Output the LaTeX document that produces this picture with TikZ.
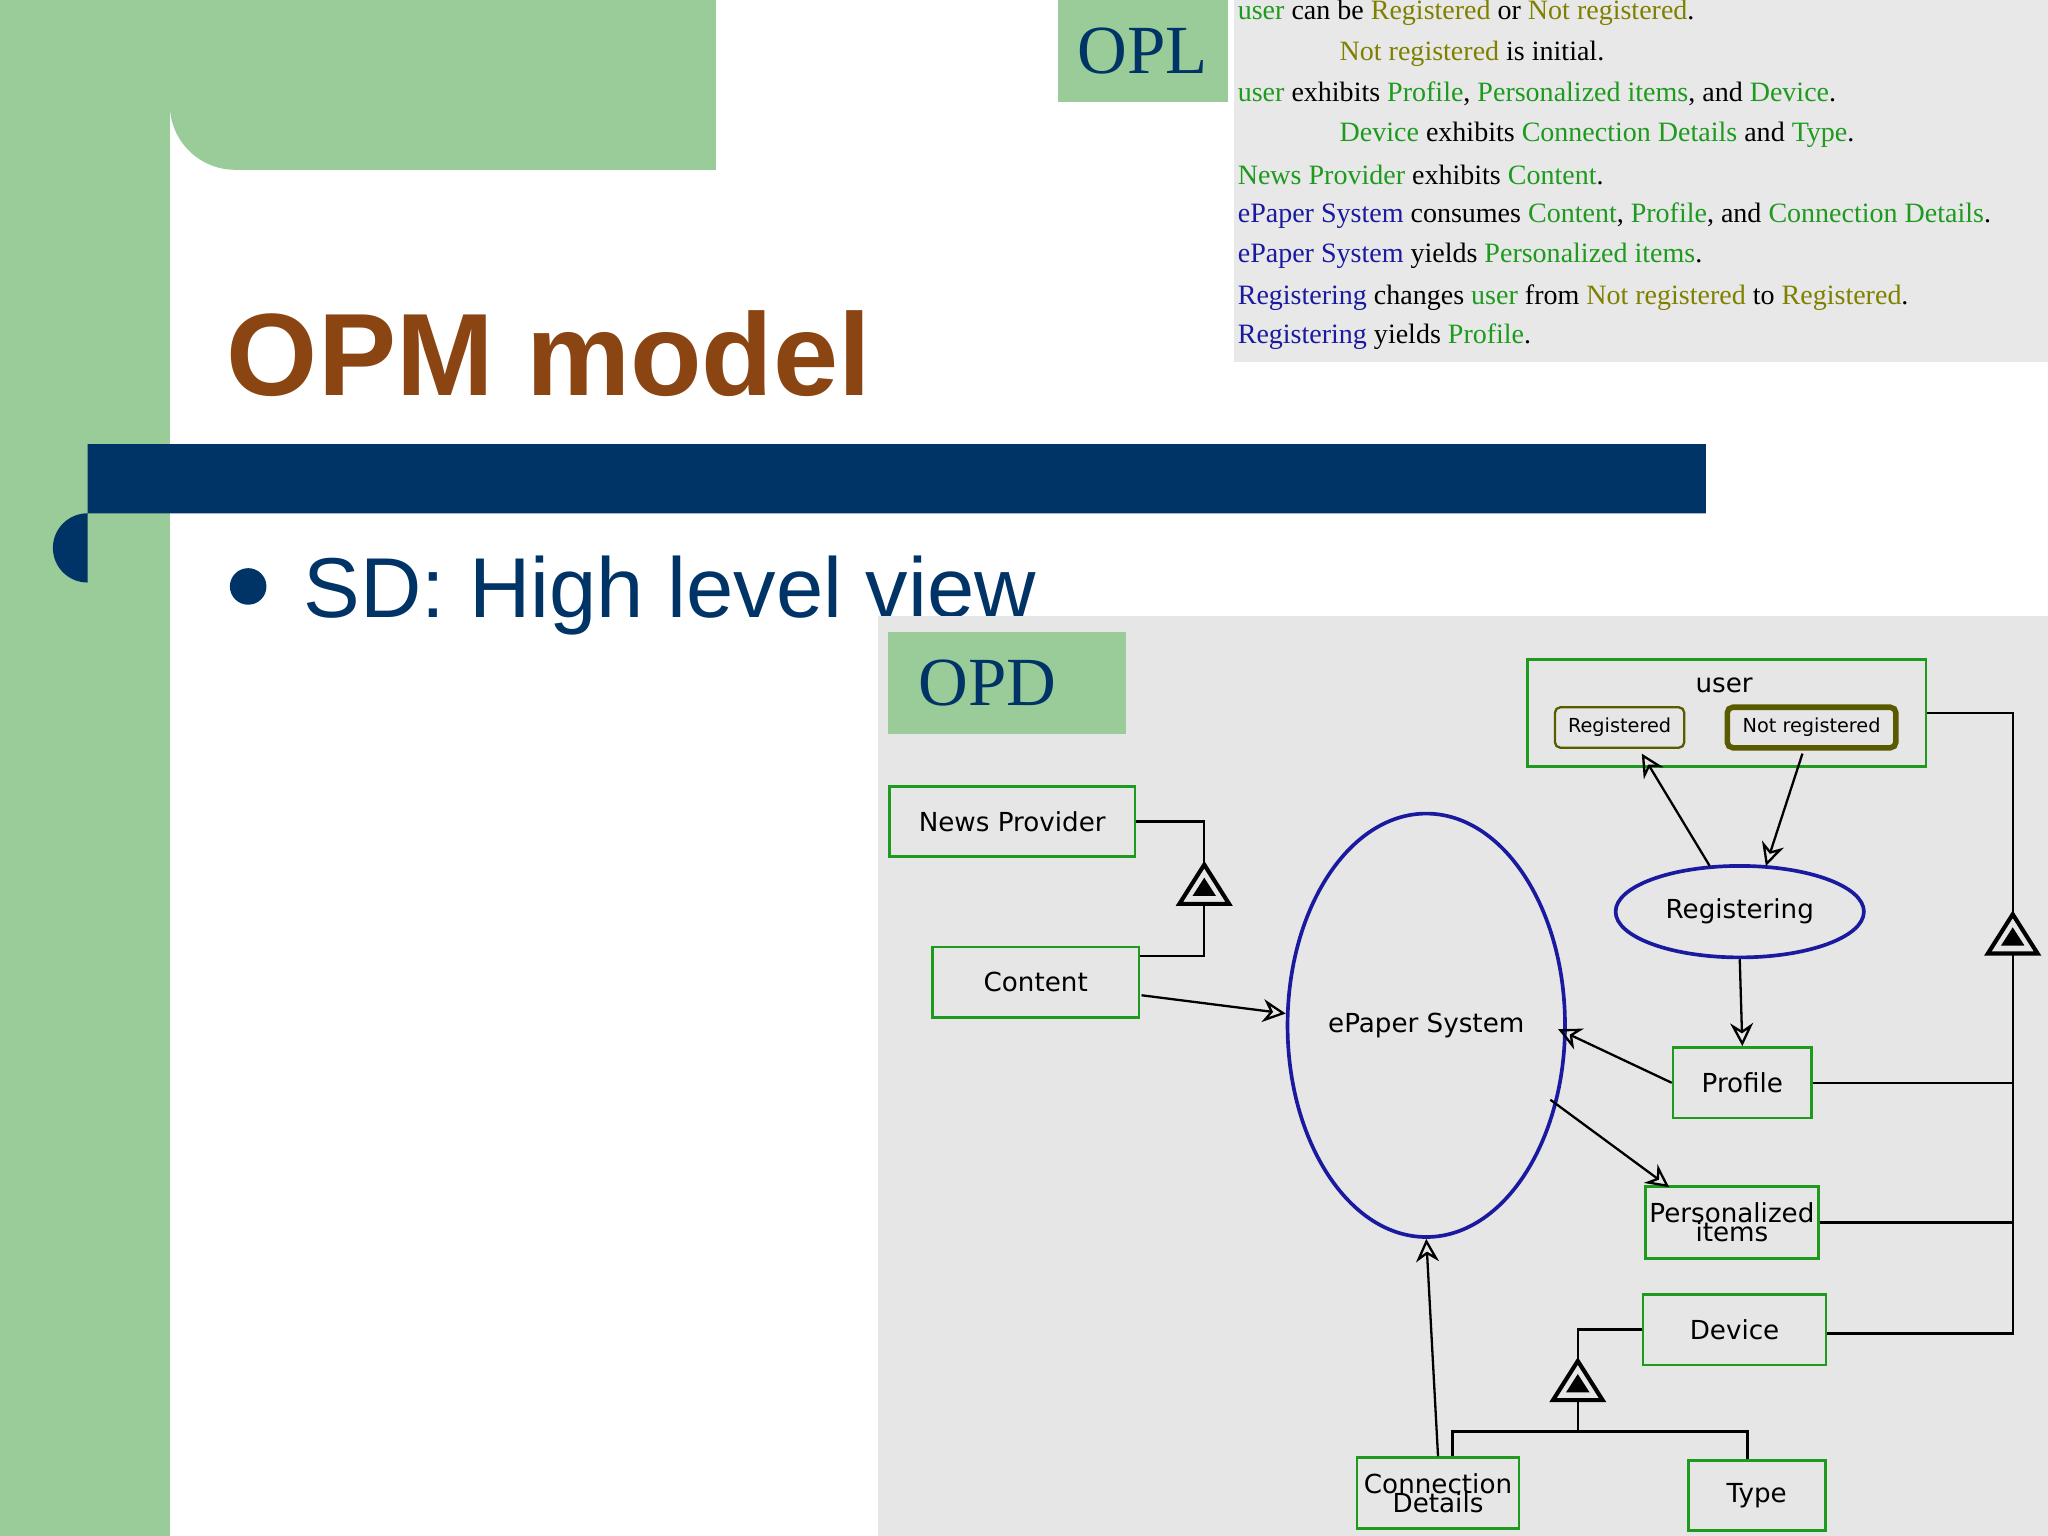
\documentclass[tikz,border=0pt]{standalone}
\usepackage{fontspec}
\setmainfont{Liberation Serif}
\setsansfont{Liberation Sans}
\newfontfamily\dvsans{DejaVu Sans}
\usetikzlibrary{arrows.meta,shapes.geometric}
\definecolor{sgreen}{HTML}{99CC99}
\definecolor{navy}{HTML}{003366}
\definecolor{brownt}{HTML}{8B4513}
\definecolor{oplgray}{HTML}{E8E8E8}
\definecolor{opdgray}{HTML}{E6E6E6}
\definecolor{objg}{HTML}{1E9A1E}
\definecolor{stol}{HTML}{808000}
\definecolor{prb}{HTML}{1A1AA0}
\newcommand{\ob}[1]{\textcolor{objg}{#1}}
\newcommand{\st}[1]{\textcolor{stol}{#1}}
\newcommand{\pr}[1]{\textcolor{prb}{#1}}
\begin{document}
\begin{tikzpicture}[x=0.01cm,y=-0.01cm,
 obj/.style={draw=objg,line width=0.6pt,fill=opdgray,inner sep=0pt,font=\dvsans\fontsize{5.7}{6.2}\selectfont,align=center},
 state/.style={draw=stol!70!black,rounded corners=1.2pt,line width=0.5pt,inner sep=0pt,font=\dvsans\fontsize{4.2}{5}\selectfont},
 proc/.style={draw=prb,ellipse,line width=0.8pt,inner sep=0pt,font=\dvsans\fontsize{5.7}{6.2}\selectfont},
 oplline/.style={anchor=west,inner sep=0pt,font=\fontsize{6.1}{7}\selectfont},
 arr/.style={-{Stealth[open,length=5pt,width=5pt]},line width=0.5pt},
 con/.style={line width=0.5pt}]
\useasboundingbox (0,0) rectangle (1568,1176);
\fill[white] (0,0) rectangle (1568,1176);
\fill[sgreen] (0,0) -- (548,0) -- (548,130) -- (180,130) arc[start angle=90,end angle=180,radius=50] -- (130,1176) -- (0,1176) -- cycle;
% OPL
\fill[oplgray] (945,0) rectangle (1568,277);
\node[fill=sgreen,minimum width=1.3cm,minimum height=0.78cm,inner sep=0pt,text=navy,font=\fontsize{15}{15}\selectfont] (opl) at (875,39) {OPL};
\node[oplline] (l1) at (947,10) {\ob{user} can be \st{Registered} or \st{Not registered}.};
\node[oplline] (l2) at (1025,41) {\st{Not registered} is initial.};
\node[oplline] (l3) at (947,72) {\ob{user} exhibits \ob{Profile}, \ob{Personalized items}, and \ob{Device}.};
\node[oplline] (l4) at (1025,103) {\ob{Device} exhibits \ob{Connection Details} and \ob{Type}.};
\node[oplline] (l5) at (947,134) {\ob{News Provider} exhibits \ob{Content}.};
\node[oplline] (l6) at (947,165) {\pr{ePaper System} consumes \ob{Content}, \ob{Profile}, and \ob{Connection Details}.};
\node[oplline] (l7) at (947,196) {\pr{ePaper System} yields \ob{Personalized items}.};
\node[oplline] (l8) at (947,228) {\pr{Registering} changes \ob{user} from \st{Not registered} to \st{Registered}.};
\node[oplline] (l9) at (947,258) {\pr{Registering} yields \ob{Profile}.};
% title
\node[anchor=base west,inner sep=0pt,text=brownt,font=\sffamily\bfseries\fontsize{25.5}{26}\selectfont] (title) at (173,303) {OPM model};
\fill[navy] (67,340) -- (1306,340) -- (1306,393) -- (67,393) arc[start angle=270,end angle=90,radius=26.5] -- cycle;
\fill[navy] (190,449) circle (14);
\node[anchor=base west,inner sep=0pt,text=navy,font=\sffamily\fontsize{18.5}{19}\selectfont] (sd) at (232,473) {SD: High level view};
% OPD
\fill[opdgray] (672,472) rectangle (1568,1176);
\node[fill=sgreen,minimum width=1.82cm,minimum height=0.78cm,inner sep=0pt,text=navy,font=\fontsize{15}{15}\selectfont] (opd) at (771,523) {\hspace*{-0.3cm}OPD};
\node[obj,minimum width=1.88cm,minimum height=0.54cm] (np) at (775,629) {News Provider};
\node[obj,minimum width=1.58cm,minimum height=0.54cm] (ct) at (793,752) {Content};
\node[proc,minimum width=1.92cm,minimum height=3.24cm] (eps) at (1092,785) {ePaper System};
\node[obj,minimum width=3.05cm,minimum height=0.82cm] (user) at (1322,546) {};
\node[font=\dvsans\fontsize{5.7}{6}\selectfont,inner sep=0pt] (ul) at (1320,525) {user};
\node[state,minimum width=0.99cm,minimum height=0.31cm] (reg) at (1240,557) {Registered};
\node[state,line width=1.2pt,minimum width=1.29cm,minimum height=0.31cm] (nreg) at (1387,557) {Not registered};
\node[proc,minimum width=1.9cm,minimum height=0.7cm] (rg) at (1332,698) {Registering};
\node[obj,minimum width=1.06cm,minimum height=0.54cm] (pf) at (1334,829) {Profile};
\node[obj,minimum width=1.32cm,minimum height=0.55cm] (pi) at (1326,936) {Personalized\\[-2pt]items};
\node[obj,minimum width=1.4cm,minimum height=0.54cm] (dv) at (1328,1018) {Device};
\node[obj,minimum width=1.24cm,minimum height=0.54cm] (cd) at (1101,1143) {Connection\\[-2pt]Details};
\node[obj,minimum width=1.05cm,minimum height=0.54cm] (ty) at (1345,1145) {Type};
% aggregation triangles
\newcommand{\aggtri}[2]{%
 \draw[line width=0.9pt,fill=opdgray] (#1,#2) -- (#1+19,#2+30) -- (#1-19,#2+30) -- cycle;
 \fill[black] (#1,#2+10) -- (#1+9,#2+24) -- (#1-9,#2+24) -- cycle;}
\aggtri{922}{662}\coordinate (t1) at (922,662); \coordinate (t1b) at (922,692);
\aggtri{1541}{700}\coordinate (t2) at (1541,700); \coordinate (t2b) at (1541,730);
\aggtri{1208}{1042}\coordinate (t3) at (1208,1042); \coordinate (t3b) at (1208,1072);
\draw[con] (np.east) -| (t1);
\draw[con] (t1b) |- (ct.east|-0,732);
\draw[con] (user.east|-0,546) -| (t2);
\draw[con] (t2b) |- (dv.east|-0,1021);
\draw[con] (pf.east) -- (pf.east-|t2b);
\draw[con] (pi.east) -- (pi.east-|t2b);
\draw[con] (dv.west) -| (t3);
\draw[con] (t3b) -- (1208,1096);
\draw[con] (cd.north-|1112,0) |- (1338,1096) -- (ty.north-|1338,0);
% arrows
\draw[arr] (874,762) -- (eps.west|-0,776);
\draw[arr] (pf.west) -- (1193,788);
\draw[arr] (1187,842) -- (1278,909);
\draw[arr] (cd.north) -- (eps.south);
\draw[arr] (1309,663) -- (1257,577);
\draw[arr] (1380,577) -- (1352,663);
\draw[arr] (rg.south) -- (pf.north);
\end{tikzpicture}
\end{document}
